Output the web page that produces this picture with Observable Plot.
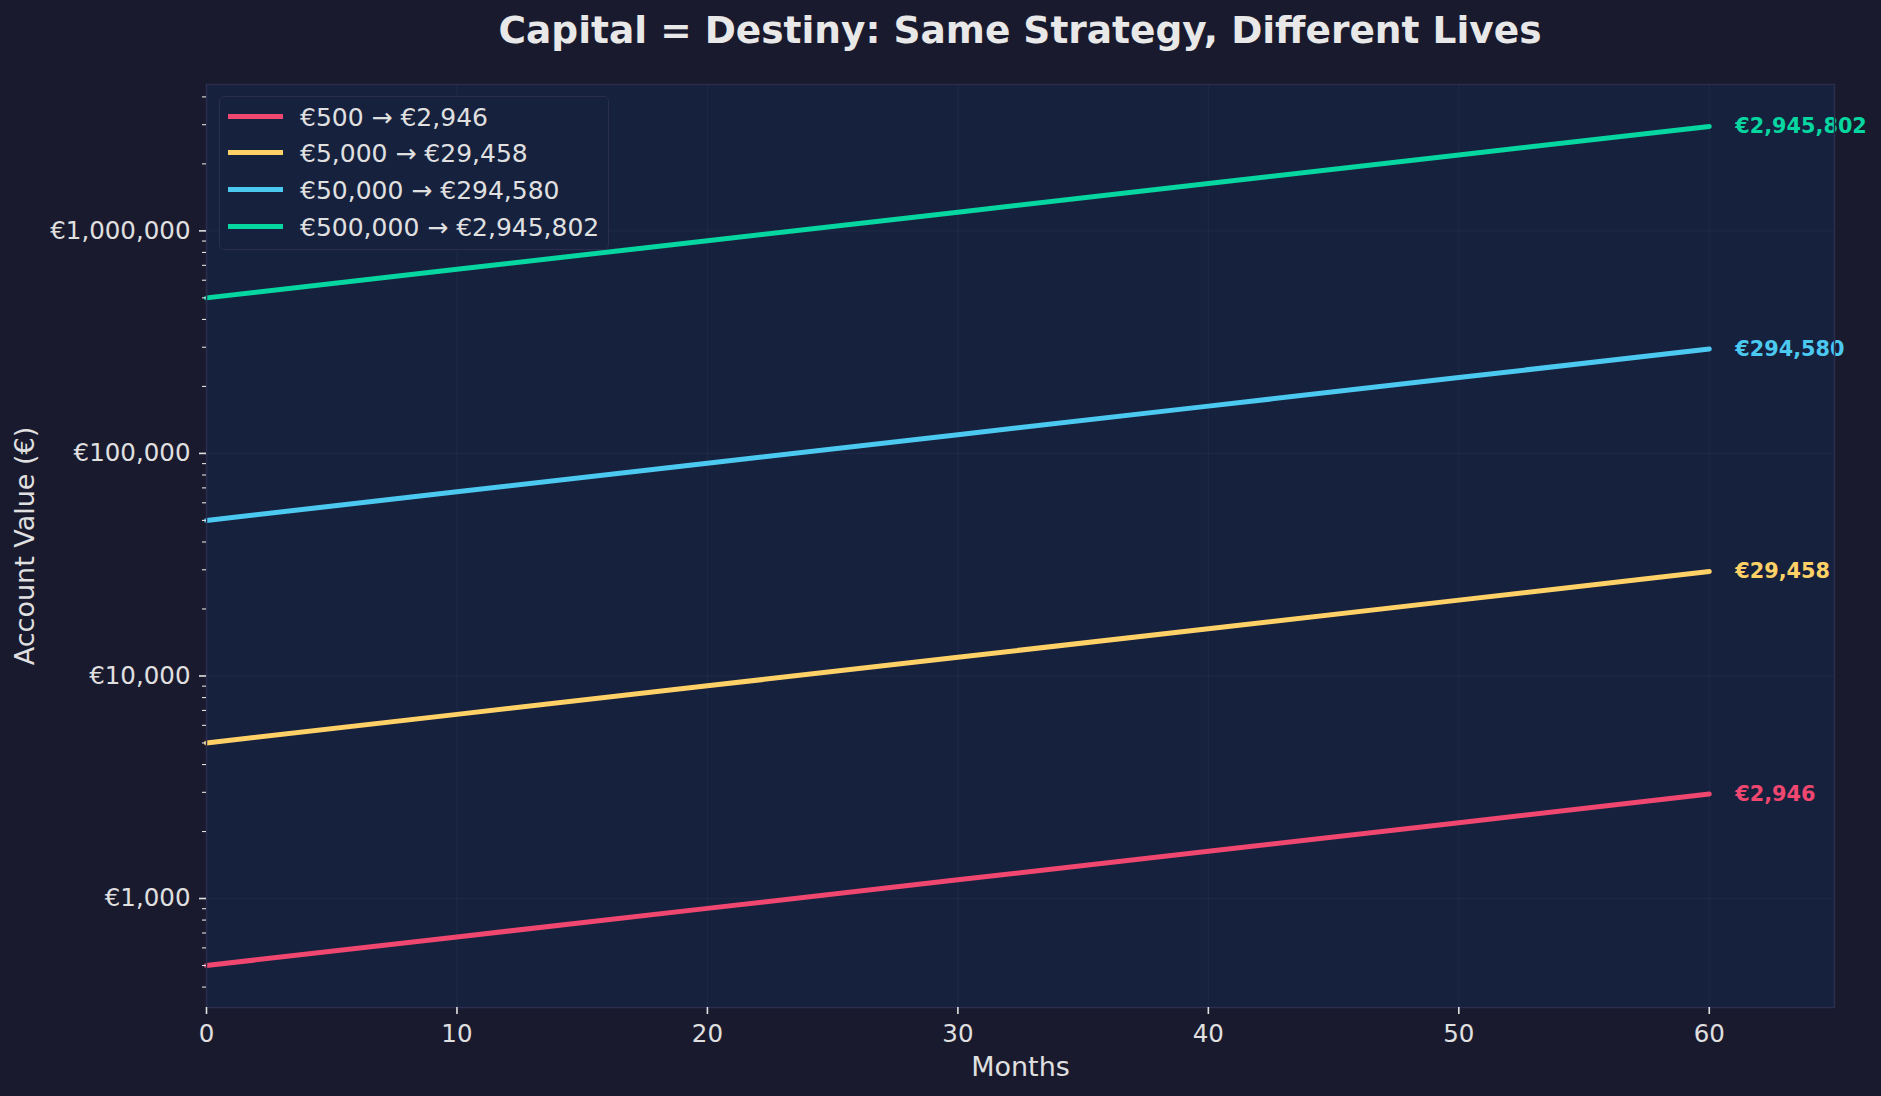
<!DOCTYPE html>
<html><head><meta charset="utf-8">
<script src="https://cdn.jsdelivr.net/npm/d3@7"></script>
<script src="https://cdn.jsdelivr.net/npm/@observablehq/plot@0.6"></script>
<style>
html,body{margin:0;padding:0;background:#1a1a2e;}
#wrap{position:relative;width:1881px;height:1096px;font-family:"DejaVu Sans",sans-serif;overflow:hidden;}
#chart{position:absolute;left:0;top:0;}
#title{position:absolute;left:206px;width:1628px;top:12px;text-align:center;font-size:37.5px;line-height:37.5px;font-weight:bold;color:#e8e8e8;white-space:nowrap;}
#legend{position:absolute;left:219px;top:96px;width:390px;height:154px;background:rgba(22,33,62,0.85);border:1.5px solid #2a2d4c;border-radius:5px;box-sizing:border-box;}
.handle{position:absolute;left:8px;width:55px;height:5px;}
.ltext{position:absolute;left:80px;font-size:25px;line-height:25px;color:#e0e0e0;white-space:nowrap;}
</style>
</head><body>
<div id="wrap">
  <div id="chart"></div>
  <div id="title">Capital = Destiny: Same Strategy, Different Lives</div>
  <div id="legend"></div>
</div>
<script>
// ---- data ----
const months = [0, 10, 20, 30, 40, 50, 60];
const startCapital = [500, 5000, 50000, 500000];
const finalValue = [2946, 29458, 294580, 2945802];
const seriesColors = ["#EF476F", "#FFD166", "#4CC9F0", "#06D6A0"];
const values500 = [500, 672, 903, 1214, 1631, 2192, 2946];
const values5000 = [5000, 6720, 9031, 12136, 16310, 21920, 29458];
const values50000 = [50000, 67196, 90306, 121363, 163102, 219196, 294580];
const values500000 = [500000, 671958, 903056, 1213631, 1631019, 2191962, 2945802];
const seriesValues = [values500, values5000, values50000, values500000];
const xTicks = [0, 10, 20, 30, 40, 50, 60];
const yTicks = [1000, 10000, 100000, 1000000];
const titleText = "Capital = Destiny: Same Strategy, Different Lives";
const xLabel = "Months";
const yLabel = "Account Value (€)";

const fmt = d3.format(",");
const euro = v => "€" + fmt(v);
const seriesLabels = startCapital.map((s, i) => `${euro(s)} → ${euro(finalValue[i])}`);

const yDomain = [Math.pow(10, 2.5103), Math.pow(10, 6.6577)];
const minorTicks = [];
for (let e = 2; e <= 6; e++) for (let m = 2; m <= 9; m++) {
  const v = m * Math.pow(10, e);
  if (v > yDomain[0] && v < yDomain[1]) minorTicks.push(v);
}

const textColor = "#e0e0e0";
const marks = [
  Plot.frame({fill: "#16213e"}),
  Plot.gridX(xTicks, {stroke: "#ffffff", strokeOpacity: 0.035, strokeWidth: 1.2}),
  Plot.gridY(yTicks, {stroke: "#ffffff", strokeOpacity: 0.035, strokeWidth: 1.2})
];
seriesValues.forEach((vals, i) => {
  const rows = months.map((m, j) => ({month: m, value: vals[j]}));
  marks.push(Plot.line(rows, {x: "month", y: "value", stroke: seriesColors[i], strokeWidth: 5}));
  marks.push(Plot.text([rows[rows.length - 1]], {
    x: "month", y: "value", text: d => euro(finalValue[i]),
    fill: seriesColors[i], dx: 26, textAnchor: "start", fontWeight: "bold", fontSize: 20.8
  }));
});
marks.push(
  Plot.frame({stroke: "#2a2d4c", strokeWidth: 1.5}),
  Plot.axisX({ticks: xTicks, tickSize: 7, tickPadding: 10, label: null, stroke: textColor, strokeWidth: 1.6, fontSize: 24.5}),
  Plot.axisY({ticks: yTicks, tickSize: 7, tickPadding: 9, label: null, tickFormat: euro, stroke: textColor, strokeWidth: 1.6, fontSize: 24.5}),
  Plot.axisY({ticks: minorTicks, tickSize: 4, tickFormat: () => "", label: null, stroke: textColor, strokeWidth: 1.1}),
  Plot.text([xLabel], {frameAnchor: "bottom", dy: 60, lineAnchor: "middle", textAnchor: "middle", fontSize: 27, fill: textColor, text: d => d}),
  Plot.text([yLabel], {frameAnchor: "left", dx: -181, rotate: -90, lineAnchor: "middle", textAnchor: "middle", fontSize: 27, fill: textColor, text: d => d})
);

const chart = Plot.plot({
  width: 1881, height: 1096,
  marginLeft: 206, marginRight: 47, marginTop: 84, marginBottom: 89,
  style: {background: "transparent", color: textColor, fontFamily: "DejaVu Sans", fontSize: "24.5px"},
  x: {domain: [0, 65]},
  y: {type: "log", domain: yDomain},
  marks
});
document.getElementById("chart").appendChild(chart);

// legend
const legend = document.getElementById("legend");
const rowCenters = [117, 153, 190, 227];
seriesLabels.forEach((lab, i) => {
  const c = rowCenters[i] - 96;
  const h = document.createElement("div");
  h.className = "handle";
  h.style.top = (c - 2.5 - 1.5) + "px";
  h.style.background = seriesColors[i];
  legend.appendChild(h);
  const t = document.createElement("div");
  t.className = "ltext";
  t.style.top = (c - 12 - 1.5) + "px";
  t.textContent = lab;
  legend.appendChild(t);
});
document.getElementById("title").textContent = titleText;
</script>
</body></html>
